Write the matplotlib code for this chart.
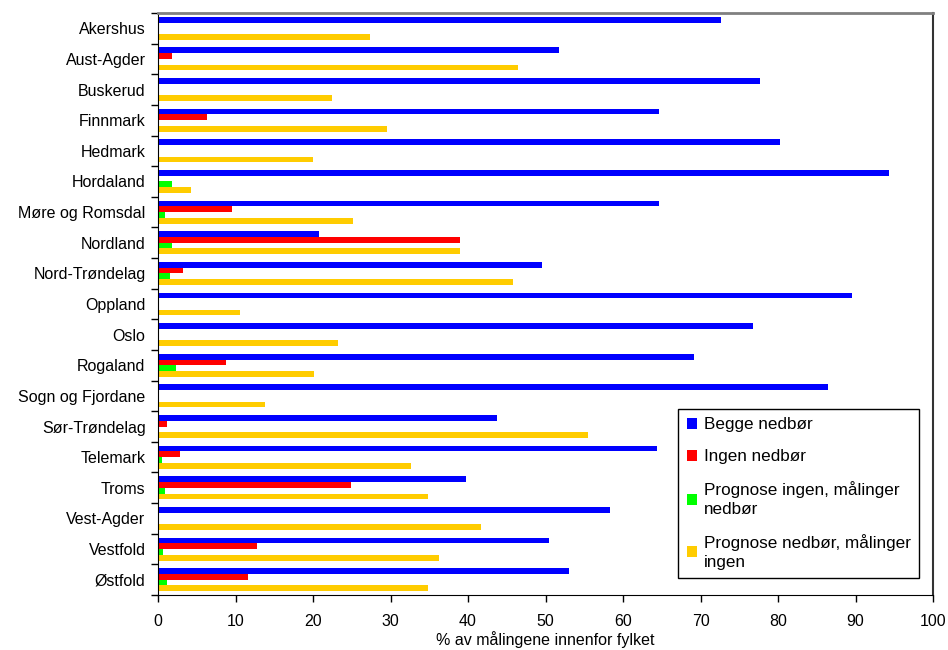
import numpy as np
import matplotlib
matplotlib.use('Agg')
import matplotlib.pyplot as plt
from matplotlib.ticker import FixedLocator

plt.rcParams['font.family'] = ['Liberation Sans', 'DejaVu Sans']

# Data
fylker = ['Akershus', 'Aust-Agder', 'Buskerud', 'Finnmark', 'Hedmark', 'Hordaland',
          'Møre og Romsdal', 'Nordland', 'Nord-Trøndelag', 'Oppland', 'Oslo', 'Rogaland',
          'Sogn og Fjordane', 'Sør-Trøndelag', 'Telemark', 'Troms', 'Vest-Agder',
          'Vestfold', 'Østfold']
begge_nedbor = [72.7, 51.7, 77.7, 64.6, 80.2, 94.3, 64.6, 20.8, 49.6, 89.5, 76.8, 69.2,
                86.4, 43.7, 64.4, 39.7, 58.3, 50.5, 53.0]
ingen_nedbor = [0, 1.8, 0, 6.3, 0, 0, 9.5, 38.9, 3.2, 0, 0, 8.8,
                0, 1.1, 2.8, 24.9, 0, 12.8, 11.6]
prog_ingen_mal_nedbor = [0, 0, 0, 0, 0, 1.8, 0.9, 1.8, 1.5, 0, 0, 2.3,
                         0, 0, 0.5, 0.9, 0, 0.7, 1.1]
prog_nedbor_mal_ingen = [27.4, 46.5, 22.5, 29.5, 20.0, 4.2, 25.2, 38.9, 45.8, 10.6, 23.2, 20.1,
                         13.8, 55.5, 32.7, 34.8, 41.7, 36.3, 34.8]
serier = ['Begge nedbør', 'Ingen nedbør', 'Prognose ingen, målinger\nnedbør',
          'Prognose nedbør, målinger\ningen']
farger = ['#0000FF', '#FF0000', '#00FF00', '#FFCC00']

fs = 11.5
fig = plt.figure(figsize=(9.48, 6.5), dpi=100)
ax = fig.add_axes([0.1667, 0.0846, 0.8175, 0.8954])

y = np.arange(len(fylker))
h = 0.1875
offsets = [-1.5 * h, -0.5 * h, 0.5 * h, 1.5 * h]
for vals, off, col, lab in zip([begge_nedbor, ingen_nedbor, prog_ingen_mal_nedbor,
                                prog_nedbor_mal_ingen], offsets, farger, serier):
    ax.barh(y + off, vals, height=h, color=col, label=lab, linewidth=0)

ax.set_xlim(0, 100)
ax.set_ylim(len(fylker) - 0.5, -0.5)
ax.set_xticks(np.arange(0, 101, 10))
ax.set_yticks(y)
ax.set_yticklabels(fylker, fontsize=fs)
ax.yaxis.set_minor_locator(FixedLocator(np.arange(-0.5, len(fylker), 1)))
ax.tick_params(axis='y', which='major', length=0, pad=9)
ax.tick_params(axis='y', which='minor', length=5, width=1, direction='out')
ax.tick_params(axis='x', length=5, width=1, direction='out', labelsize=fs, pad=9)
ax.set_xlabel('% av målingene innenfor fylket', fontsize=fs, labelpad=1)

for s in ['left', 'bottom']:
    ax.spines[s].set_color('black')
ax.spines['top'].set_color('#808080')
ax.spines['top'].set_linewidth(2)
ax.spines['right'].set_color('#333333')
ax.spines['right'].set_linewidth(1.5)

leg = ax.legend(loc='upper left', bbox_to_anchor=(0.671, 0.32), fontsize=12.3,
                frameon=True, fancybox=False, edgecolor='black', framealpha=1,
                handlelength=0.6, handleheight=0.6, handletextpad=0.4,
                labelspacing=1.0, borderpad=0.5, borderaxespad=0)
leg.get_frame().set_linewidth(1)
for t in leg.get_texts():
    t.set_linespacing(1.3)

fig.savefig('out.png', dpi=100)
